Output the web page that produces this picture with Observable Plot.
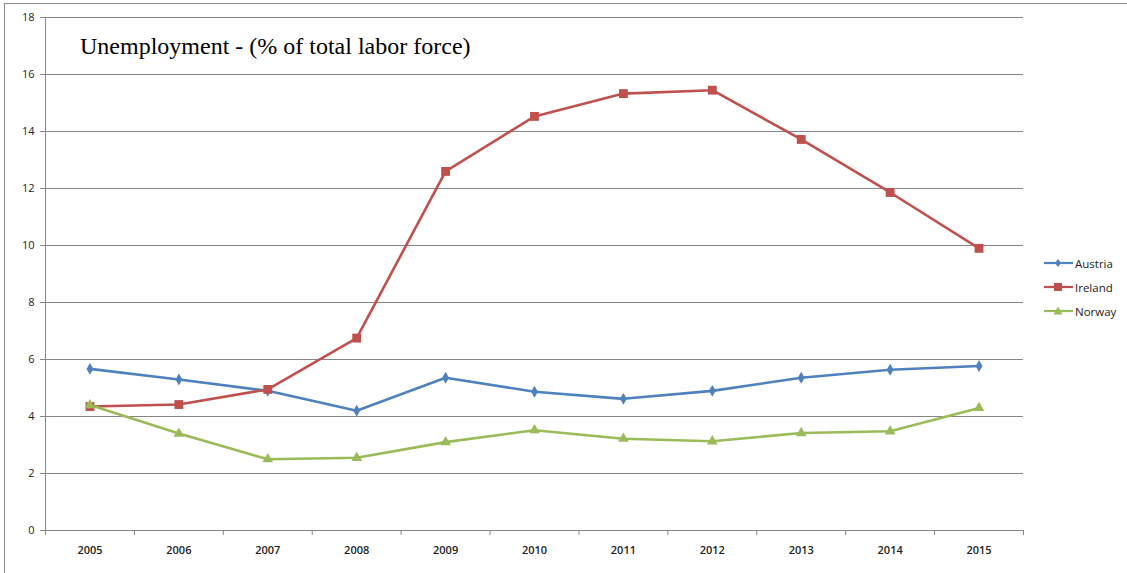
<!DOCTYPE html>
<html>
<head>
<meta charset="utf-8">
<script src="https://cdn.jsdelivr.net/npm/d3@7"></script>
<script src="https://cdn.jsdelivr.net/npm/@observablehq/plot@0.6"></script>
<style>
  html, body { margin: 0; padding: 0; background: #fff; }
  #wrap { position: relative; width: 1127px; height: 573px; overflow: hidden; }
  #frame { position: absolute; left: 4px; top: 3px; width: 1130px; height: 580px; border-left: 1px solid #8c8c8c; border-top: 1px solid #8c8c8c; pointer-events: none; }
  #title { position: absolute; left: 80px; top: 33px; font-family: "Liberation Serif", "DejaVu Serif", serif; font-size: 24px; color: #000; white-space: nowrap; }
  #legend { position: absolute; left: 1044px; top: 251px; font-family: "Open Sans", "Liberation Sans", sans-serif; font-size: 11.5px; color: #222; }
  #legend .item { display: flex; align-items: center; height: 24px; }
  #legend svg { margin-right: 2px; }
  #chart { position: absolute; left: 0; top: 0; }
</style>
</head>
<body>
<div id="wrap">
  <div id="chart"></div>
  <div id="frame"></div>
  <div id="title">Unemployment - (% of total labor force)</div>
  <div id="legend"></div>
</div>
<script>
const years = [2005, 2006, 2007, 2008, 2009, 2010, 2011, 2012, 2013, 2014, 2015];
const austria = [5.67, 5.3, 4.9, 4.2, 5.36, 4.87, 4.62, 4.9, 5.36, 5.64, 5.77];
const ireland = [4.35, 4.42, 4.95, 6.75, 12.6, 14.53, 15.33, 15.45, 13.72, 11.86, 9.9];
const norway = [4.4, 3.4, 2.5, 2.55, 3.1, 3.52, 3.22, 3.13, 3.42, 3.48, 4.3];
const seriesNames = ["Austria", "Ireland", "Norway"];
const seriesColors = ["#4F81BD", "#C0504D", "#9BBB59"];
const seriesSymbols = ["diamond", "square", "triangle"];
const yTicks = [0, 2, 4, 6, 8, 10, 12, 14, 16, 18];

const seriesValues = [austria, ireland, norway];
const data = [];
seriesNames.forEach((name, i) => {
  years.forEach((yr, j) => data.push({series: name, year: yr, value: seriesValues[i][j]}));
});
const boundaries = [years[0] - 0.5, ...years.map(y => y + 0.5)];

const chart = Plot.plot({
  width: 1127,
  height: 573,
  marginLeft: 45,
  marginRight: 104,
  marginTop: 17,
  marginBottom: 43,
  style: {fontFamily: "'Open Sans', 'Liberation Sans', sans-serif", fontSize: "11px", color: "#222", background: "transparent"},
  x: {type: "linear", domain: [years[0] - 0.5, years[years.length - 1] + 0.5], axis: null, label: null},
  y: {domain: [0, 18], axis: null, label: null},
  color: {domain: seriesNames, range: seriesColors},
  symbol: {domain: seriesNames, range: seriesSymbols},
  marks: [
    Plot.gridY(yTicks.filter(t => t > 0), {stroke: "#868686", strokeOpacity: 1}),
    Plot.ruleY([0], {stroke: "#868686"}),
    Plot.ruleX([boundaries[0]], {stroke: "#868686"}),
    Plot.axisY({ticks: yTicks, tickSize: 5, tickPadding: 6, stroke: "#868686", fill: "#222", label: null, tickFormat: d => String(d)}),
    Plot.axisX({ticks: boundaries, tickSize: 5, tickFormat: () => "", stroke: "#868686", label: null}),
    Plot.axisX({ticks: years, tickSize: 0, tickPadding: 16, label: null, tickFormat: d => String(d), fill: "#222", fontWeight: 600}),
    Plot.line(data, {x: "year", y: "value", z: "series", stroke: "series", strokeWidth: 2.6}),
    Plot.dot(data.filter(d => d.series === "Austria"), {x: "year", y: "value", symbol: "series", fill: "series", r: 3.6, stroke: null}),
    Plot.dot(data.filter(d => d.series === "Ireland"), {x: "year", y: "value", symbol: "series", fill: "series", r: 5, stroke: null}),
    Plot.dot(data.filter(d => d.series === "Norway"), {x: "year", y: "value", symbol: "series", fill: "series", r: 4, stroke: null})
  ]
});
document.getElementById("chart").appendChild(chart);

const legend = document.getElementById("legend");
const symbolPaths = {
  diamond: '<path d="M14,4 L17,8 L14,12 L11,8 Z"/>',
  square: '<rect x="10" y="4" width="8" height="8"/>',
  triangle: '<path d="M14,3.5 L18.5,11.5 L9.5,11.5 Z"/>'
};
seriesNames.forEach((name, i) => {
  const c = seriesColors[i];
  const item = document.createElement("div");
  item.className = "item";
  item.innerHTML = `<svg width="29" height="16"><line x1="0" y1="8" x2="29" y2="8" stroke="${c}" stroke-width="2.2"/><g fill="${c}">${symbolPaths[seriesSymbols[i]]}</g></svg><span>${name}</span>`;
  legend.appendChild(item);
});
</script>
</body>
</html>
